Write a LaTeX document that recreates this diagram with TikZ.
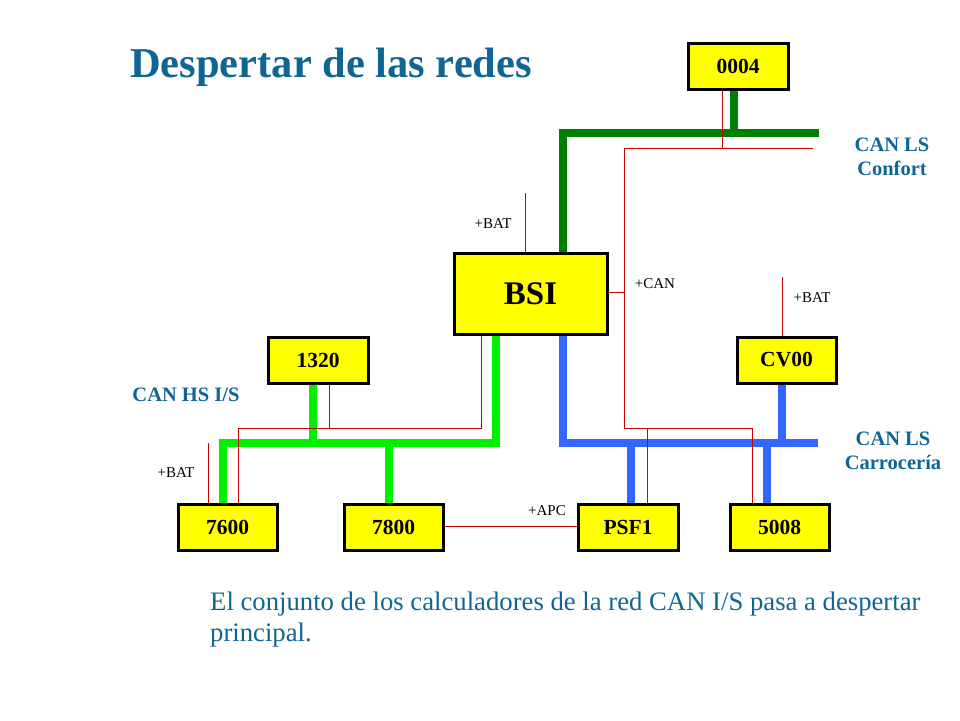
\documentclass[tikz,border=0pt]{standalone}
\usepackage{fontspec}
\setmainfont{Liberation Serif}
\definecolor{titleblue}{RGB}{15,102,149}
\definecolor{ecuyellow}{RGB}{255,255,0}
\definecolor{darkbus}{RGB}{0,128,0}
\definecolor{lightbus}{RGB}{0,240,0}
\definecolor{bluebus}{RGB}{51,102,255}
\definecolor{wire}{RGB}{204,0,0}
\tikzset{
  ecu/.style={draw=black, line width=3pt, fill=ecuyellow, minimum width=100pt, minimum height=46pt, inner sep=0pt, font=\fontsize{21.5}{24}\selectfont\bfseries},
  bsibox/.style={ecu, minimum width=153pt, minimum height=81pt, font=\fontsize{33}{38}\selectfont\bfseries},
  busdark/.style={draw=darkbus, line width=8pt},
  buslight/.style={draw=lightbus, line width=8pt},
  busblue/.style={draw=bluebus, line width=8pt},
  redwire/.style={draw=wire, line width=1pt},
  pwr/.style={font=\fontsize{15}{18}\selectfont, inner sep=0pt},
  netlbl/.style={font=\fontsize{20.5}{24}\selectfont\bfseries, text=titleblue, align=center, inner sep=0pt},
}
\begin{document}
\begin{tikzpicture}[x=1pt,y=-1pt]
\useasboundingbox (0,0) rectangle (960,720);
\fill[white] (0,0) rectangle (960,720);

% title
\node[anchor=base west, inner sep=0pt, text=titleblue, font=\fontsize{42.5}{48}\selectfont\bfseries] (title) at (130,77) {Despertar de las redes};

\coordinate (cfR) at (819,133);
\coordinate (cfRr) at (813,148);
\coordinate (caR) at (818,443);

% ECUs (placed first for naming)
\node[ecu] (n0004) at (738,66) {0004};
\node[bsibox] (bsi) at (530.5,293.5) {BSI};
\node[ecu] (n1320) at (318,360) {1320};
\node[ecu, minimum width=99pt] (cv00) at (786.5,360) {CV00};
\node[ecu, minimum width=99pt] (n7600) at (227.5,527) {7600};
\node[ecu, minimum width=99pt] (n7800) at (393.5,527) {7800};
\node[ecu] (psf1) at (628,527) {PSF1};
\node[ecu, minimum width=99pt] (n5008) at (779.5,527) {5008};

% CAN LS Confort (dark green)
\draw[busdark] (bsi.north -| 563,0) -- (563,133) -- (cfR);
\draw[busdark] (n0004.south -| 734,0) -- (734,133);

% CAN HS I/S (light green)
\draw[buslight] (bsi.south -| 496,0) -- (496,443) -- (223,443) -- (n7600.north -| 223,0);
\draw[buslight] (n1320.south -| 313,0) -- (313,443);
\draw[buslight] (389,443) -- (n7800.north -| 389,0);

% CAN LS Carroceria (blue)
\draw[busblue] (bsi.south -| 563,0) -- (563,443) -- (caR);
\draw[busblue] (cv00.south -| 782,0) -- (782,443);
\draw[busblue] (631,443) -- (psf1.north -| 631,0);
\draw[busblue] (767,443) -- (n5008.north -| 767,0);

% red wake-up wires
\coordinate (batBSI) at (525.5,193);
\coordinate (batCV) at (782,277);
\coordinate (bat76) at (208,443);
\draw[redwire] (batBSI) -- (bsi.north -| batBSI);
\draw[redwire] (batCV) -- (cv00.north -| batCV);
\draw[redwire] (bat76) -- (n7600.north -| bat76);
\draw[redwire] (n0004.south -| 722.5,0) -- (722.5,148);
\draw[redwire] (cfRr) -- (624,148) -- (624,428) -- (752,428) -- (n5008.north -| 752,0);
\draw[redwire] (bsi.east |- 0,292) -- (624,292);
\draw[redwire] (647,428) -- (psf1.north -| 647,0);
\draw[redwire] (bsi.south -| 481,0) -- (481,428) -- (238,428) -- (n7600.north -| 238,0);
\draw[redwire] (n1320.south -| 329,0) -- (329,428);
\draw[redwire] (n7800.east |- 0,526) -- (psf1.west |- 0,526);

% redraw boxes on top of the wires
\node[ecu] at (n0004) {0004};
\node[bsibox] at (bsi) {BSI};
\node[ecu] at (n1320) {1320};
\node[ecu, minimum width=99pt] at (cv00) {CV00};
\node[ecu, minimum width=99pt] at (n7600) {7600};
\node[ecu, minimum width=99pt] at (n7800) {7800};
\node[ecu] at (psf1) {PSF1};
\node[ecu, minimum width=99pt] at (n5008) {5008};

% power labels
\node[pwr] (lbat1) at (493,224) {+BAT};
\node[pwr] (lcan) at (655,284) {+CAN};
\node[pwr] (lbat2) at (812,298) {+BAT};
\node[pwr] (lbat3) at (176,473) {+BAT};
\node[pwr] (lapc) at (547,511) {+APC};

% network labels
\node[netlbl] (lconf) at (892,157) {CAN LS\\Confort};
\node[netlbl] (lcarr) at (893,451) {CAN LS\\Carrocería};
\node[netlbl] (lhs) at (186,395) {CAN HS I/S};

% bottom text
\node[anchor=base west, inner sep=0pt, text=titleblue, font=\fontsize{26.7}{31}\selectfont] (txt1) at (210,610) {El conjunto de los calculadores de la red CAN I/S pasa a despertar};
\node[anchor=base west, inner sep=0pt, text=titleblue, font=\fontsize{26.7}{31}\selectfont] (txt2) at (210,641) {principal.};
\end{tikzpicture}
\end{document}
